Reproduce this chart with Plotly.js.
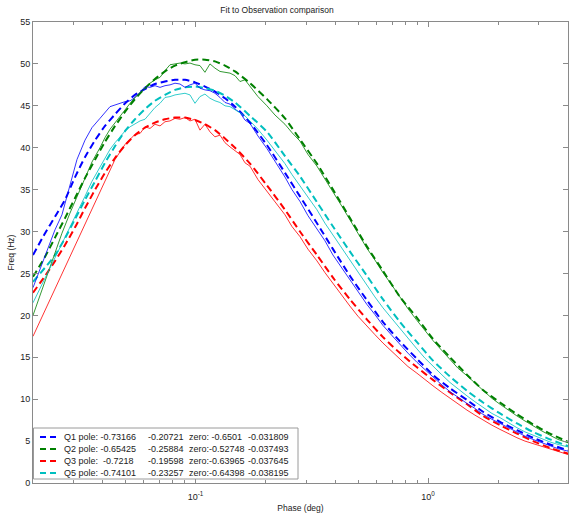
<!DOCTYPE html>
<html>
<head>
<meta charset="utf-8">
<script src="https://cdn.plot.ly/plotly-3.0.1.min.js"></script>
<style>html,body{margin:0;padding:0;background:#fff;overflow:hidden}#chart{width:569px;height:516px}</style>
</head>
<body>
<div id="chart"></div>
<script>
// ---- data ----
const fitFreq = [0.0200,0.02254,0.0249,0.02746,0.03033,0.0335,0.0370,0.0408,0.0451,0.0498,0.0549,0.0606,0.0669,0.0739,0.0816,0.0901,0.0995,0.1099,0.1213,0.1339,0.1479,0.1716,0.2030,0.2426,0.2813,0.3330,0.3902,0.4618,0.5465,0.6403,0.7576,0.8966,1.0505,1.243,1.472,1.724,2.040,2.414,2.828,3.347,4.0];

const q1Fit = [27.2,29.8,31.8,33.8,36.5,38.9,40.9,42.6,44.0,45.3,46.3,47.0,47.6,47.9,48.1,48.1,47.8,47.3,46.7,45.9,44.9,43.0,40.3,37.0,34.2,31.0,27.9,24.7,21.8,19.2,16.9,14.8,12.9,11.3,9.9,8.5,7.3,6.3,5.4,4.6,3.9];
const q2Fit = [24.6,27.0,29.3,31.6,34.0,36.4,38.6,40.7,42.6,44.3,45.8,47.1,48.2,49.1,49.8,50.2,50.5,50.5,50.3,49.8,49.1,47.7,45.8,43.5,41.0,38.1,35.0,31.6,28.2,25.3,22.2,19.7,17.2,15.0,12.9,11.1,9.6,8.2,7.0,5.9,4.9];
const q3Fit = [22.7,24.7,26.5,28.4,30.5,32.8,35.0,37.0,38.8,40.3,41.5,42.4,43.0,43.4,43.6,43.6,43.3,42.8,42.1,41.1,40.0,38.1,35.5,32.6,30.0,27.2,24.5,21.9,19.5,17.4,15.5,13.8,12.3,10.8,9.4,8.0,6.9,5.9,5.0,4.2,3.5];
const q5Fit = [24.0,25.7,27.2,29.2,31.5,33.8,36.0,38.2,40.2,42.0,43.4,44.6,45.6,46.3,46.9,47.2,47.3,47.1,46.8,46.2,45.4,43.8,41.9,39.0,36.6,33.5,30.6,27.6,24.7,21.9,19.2,16.8,14.6,12.7,11.0,9.6,8.3,7.1,6.1,5.2,4.4];

const obsFreq = [0.02000,0.02144,0.02297,0.02486,0.02664,0.02884,0.03092,0.03347,0.03587,0.03882,0.04080,0.04288,0.04507,0.04736,0.04978,0.05232,0.05494,0.05773,0.06066,0.06372,0.06696,0.07036,0.07391,0.07768,0.08162,0.08576,0.09012,0.09467,0.09947,0.1045,0.1098,0.1154,0.1212,0.1274,0.1339,0.1407,0.1478,0.1553,0.1632,0.1715,0.1856,0.2029,0.2197,0.2425,0.2599,0.2813,0.3045,0.3329,0.3603,0.3900,0.4264,0.4615,0.4995,0.5461,0.5910,0.6399,0.6995,0.7571,0.8195,0.8960,0.9698,1.0498,1.1477,1.2421,1.3447,1.4701,1.5911,1.7224,1.8830,2.0386,2.2066,2.4124,2.6116,2.8260,3.0903,3.3442,3.6200,4.0];

const q1Obs = [23.3,25.5,27.8,30.2,32.0,35.6,38.6,40.9,42.4,43.5,44.2,44.9,45.1,45.3,45.5,45.6,46.0,46.6,47.3,47.2,47.4,47.2,47.4,47.5,47.7,47.6,47.2,47.5,47.7,47.1,46.9,46.8,46.5,46.0,45.4,45.2,44.6,44.2,43.3,42.9,41.4,39.9,38.4,36.5,35.0,33.6,31.9,30.3,28.9,27.2,25.6,24.2,22.8,21.3,20.1,18.8,17.6,16.5,15.5,14.4,13.5,12.6,11.7,10.9,10.2,9.5,8.9,8.2,7.6,7.1,6.6,6.1,5.6,5.2,4.8,4.5,4.1,3.8];
const q2Obs = [20.0,22.4,24.8,27.5,29.8,32.2,34.2,36.4,38.3,40.0,41.2,42.2,43.0,43.7,44.5,45.3,46.0,46.6,47.1,47.7,48.1,48.4,49.2,49.9,50.0,50.1,50.0,50.1,49.9,49.8,49.0,50.0,49.5,49.1,49.0,48.9,48.6,47.9,48.1,47.3,46.1,45.0,43.9,42.8,41.8,40.8,39.2,37.8,36.3,34.8,33.0,31.4,29.8,28.0,26.6,25.1,23.6,22.2,20.8,19.4,18.2,17.0,15.8,14.7,13.7,12.8,11.9,11.0,10.1,9.4,8.7,8.0,7.4,6.8,6.2,5.7,5.2,4.8];
const q3Obs = [17.5,19.3,21.1,23.1,25.0,27.0,28.9,31.0,32.8,34.8,36.0,37.4,38.6,39.5,40.4,41.0,41.6,41.7,42.5,42.3,42.8,42.6,43.1,43.2,43.5,43.4,43.6,43.2,43.4,42.1,42.8,41.9,41.3,41.5,40.6,40.1,39.6,39.2,38.2,37.8,36.2,34.8,33.6,32.0,30.6,29.4,27.9,26.5,25.1,23.8,22.4,21.1,19.9,18.8,17.7,16.7,15.7,14.8,13.9,13.1,12.3,11.6,10.8,10.1,9.4,8.7,8.1,7.5,6.9,6.4,5.9,5.4,5.0,4.7,4.3,4.0,3.7,3.4];
const q5Obs = [21.5,23.2,24.9,26.8,28.5,30.4,32.2,34.2,36.0,37.7,38.8,39.8,40.6,41.3,42.0,42.5,42.9,43.2,43.4,44.1,44.8,45.3,46.0,46.1,46.3,46.4,46.5,46.3,45.3,46.1,46.4,45.9,45.6,45.4,45.0,44.9,44.5,44.1,43.8,43.2,42.2,40.9,39.6,38.1,36.8,35.5,34.1,32.6,31.0,29.6,28.0,26.6,25.1,23.6,22.2,20.9,19.6,18.4,17.2,16.0,14.9,13.9,12.9,12.0,11.2,10.4,9.7,9.0,8.3,7.8,7.2,6.6,6.1,5.7,5.3,4.9,4.6,4.3];

const seriesNames = ['Q1','Q2','Q3','Q5'];
const poleA = ['-0.73166','-0.65425','-0.7218','-0.74101'];
const poleB = ['-0.20721','-0.25884','-0.19598','-0.23257'];
const zeroA = ['-0.6501','-0.52748','-0.63965','-0.64398'];
const zeroB = ['-0.031809','-0.037493','-0.037645','-0.038195'];

const xTickVals = [0.1, 1];
const xTickText = ['10<sup>-1</sup>','10<sup>0</sup>'];
const xMinorVals = [0.02,0.03,0.04,0.05,0.06,0.07,0.08,0.09,0.2,0.3,0.4,0.5,0.6,0.7,0.8,0.9,2,3,4];
const yTickVals = [0,5,10,15,20,25,30,35,40,45,50,55];

// ---- styling ----
const colors = ['#0000ff','#008000','#ff0000','#00bfbf'];
const fits = [q1Fit,q2Fit,q3Fit,q5Fit];
const obs = [q1Obs,q2Obs,q3Obs,q5Obs];
const FONT = 'Liberation Sans, Arial, sans-serif';
const TXT = '#222';
const AX = '#8a8a8a';

const traces = [];
fits.forEach((y,i)=>traces.push({x:fitFreq,y:y,type:'scatter',mode:'lines',name:seriesNames[i],
  line:{color:colors[i],width:2,dash:'7px,4px',shape:'spline',smoothing:0.6},showlegend:false,hoverinfo:'skip'}));
obs.forEach((y,i)=>traces.push({x:obsFreq,y:y,type:'scatter',mode:'lines',name:seriesNames[i]+' obs',
  line:{color:colors[i],width:1},opacity:0.8,showlegend:false,hoverinfo:'skip'}));

// plot-area geometry (pixels) used for the MATLAB-like legend box
const W=569,H=516,ML=33,MR=1,MT=22,MB=33;
const PW=W-ML-MR, PH=H-MT-MB;
const px=(x)=>(x-ML)/PW, py=(y)=>(H-MB-y)/PH;
const NB='\u00a0';
const padTo=(arr)=>{const m=Math.max(...arr.map(s=>s.length));return arr.map(s=>NB.repeat(m-s.length)+s);};
const pA=padTo(poleA), pB=padTo(poleB), zA=padTo(zeroA), zB=padTo(zeroB);

const shapes=[{type:'rect',xref:'paper',yref:'paper',x0:px(33.5),x1:px(298),y0:py(479),y1:py(428),
  line:{color:'#9a9a9a',width:1},fillcolor:'#fff',layer:'above'}];
const annotations=[];
const rowY=[437,449,461,473];
seriesNames.forEach((n,i)=>{
  shapes.push({type:'line',xref:'paper',yref:'paper',x0:px(40),x1:px(58),y0:py(rowY[i]),y1:py(rowY[i]),
    line:{color:colors[i],width:2,dash:'6px,4px'},layer:'above'});
  const cols=[[n+' pole:'+NB+pA[i],62],[pB[i],146],['zero:'+zA[i],187],[zB[i],246]];
  cols.forEach(c=>annotations.push({xref:'paper',yref:'paper',x:px(c[1]),y:py(rowY[i]),text:c[0],
    xanchor:'left',yanchor:'middle',showarrow:false,font:{family:FONT,size:9,color:TXT}}));
});

const layout={
  width:W,height:H,margin:{l:ML,r:MR,t:MT,b:MB,pad:0},
  paper_bgcolor:'#fff',plot_bgcolor:'#fff',showlegend:false,
  font:{family:FONT,size:9,color:TXT},
  title:{text:'Fit to Observation comparison',font:{family:FONT,size:8.5,color:TXT},
    xref:'container',yref:'container',x:277/W,y:1-10/H,xanchor:'center',yanchor:'middle'},
  xaxis:{type:'log',range:[Math.log10(0.02),Math.log10(4)],tickmode:'array',tickvals:xTickVals,ticktext:xTickText,
    ticks:'inside',ticklen:5,tickcolor:AX,showline:true,linecolor:AX,linewidth:1,mirror:'ticks',
    showgrid:false,zeroline:false,ticklabelstandoff:5,tickfont:{family:FONT,size:9,color:TXT},
    minor:{tickmode:'array',tickvals:xMinorVals,ticks:'inside',ticklen:3,tickcolor:AX,showgrid:false},
    title:{text:'Phase (deg)',font:{family:FONT,size:8.5,color:TXT},standoff:4},automargin:false},
  yaxis:{range:[0,55],tickmode:'array',tickvals:yTickVals,ticks:'inside',ticklen:5,tickcolor:AX,
    showline:true,linecolor:AX,linewidth:1,mirror:'ticks',showgrid:false,zeroline:false,
    tickfont:{family:FONT,size:9,color:TXT},
    title:{text:'Freq (Hz)',font:{family:FONT,size:8.5,color:TXT},standoff:4},automargin:false},
  shapes:shapes,annotations:annotations
};
Plotly.newPlot('chart',traces,layout,{staticPlot:true,displayModeBar:false});
</script>
</body>
</html>
